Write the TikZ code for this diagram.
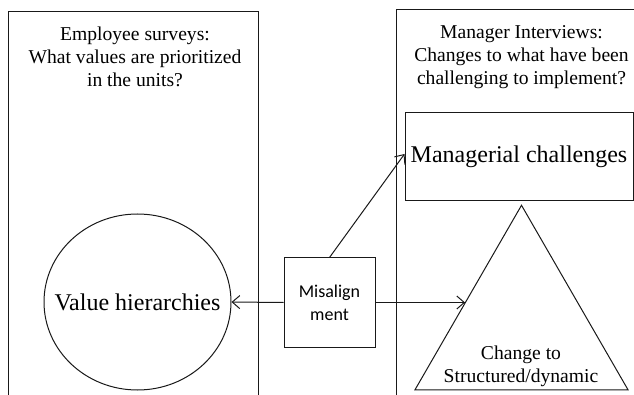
\documentclass[tikz,border=0pt]{standalone}
\usepackage{fontspec}
\setmainfont{Liberation Serif}
\newfontfamily\calib{Carlito}
\usetikzlibrary{shapes.geometric,arrows.meta,calc}
\tikzset{
  ln/.style={draw=black!90, line width=1pt},
  arr/.style={ln, -{Straight Barb[length=7.5pt,width=13pt,line width=1pt]}},
  title/.style={align=center, inner sep=0pt, font=\rmfamily\fontsize{19.6}{23}\selectfont},
  big/.style={inner sep=0pt, font=\rmfamily\fontsize{24}{28}\selectfont},
}
\begin{document}
\begin{tikzpicture}[x=1pt,y=-1pt]
\useasboundingbox (0,0) rectangle (634,395);
\clip (0,0) rectangle (634,395);
% outer boxes
\draw[ln] (8,410) -- (8,12) -- (258,12) -- (258,410);
\draw[ln] (396,410) -- (396,10) -- (650,10);
% titles
\node[title] (t1) at (135,57) {Employee surveys:\\What values are prioritized\\in the units?};
\node[title] (t2) at (521.5,57) {Manager Interviews:\\Changes to what have been\\challenging to implement?};
% shapes
\node[ln, ellipse, minimum width=187pt, minimum height=176pt, big, inner xsep=-25pt] (ell) at (137.5,302) {Value hierarchies};
\node[ln, rectangle, minimum width=228pt, minimum height=88pt, big, fill=white] (mgr) at (519,157) {\raisebox{-2pt}{Managerial challenges}};
\node[ln, regular polygon, regular polygon sides=3, minimum size=246pt, inner sep=0pt, outer sep=0pt] (tri) at (521.5,328.3) {};
\node[title] (tt) at (521,366) {Change to\\Structured/dynamic};
\node[ln, rectangle, minimum width=91pt, minimum height=89pt, align=center, inner sep=0pt, font=\calib\fontsize{18}{23}\selectfont] (mis) at (329.5,302.5) {Misalign\\ment};
% connectors
\coordinate (tp) at ($(tri.corner 2)!0.47!(tri.corner 1)$);
\draw[arr] (mis.west) -- (ell.east);
\draw[arr] (mis.east) -- (mis.east -| tp);
\draw[arr] (mis.north) -- ([yshift=3pt]mgr.west);
\end{tikzpicture}
\end{document}
